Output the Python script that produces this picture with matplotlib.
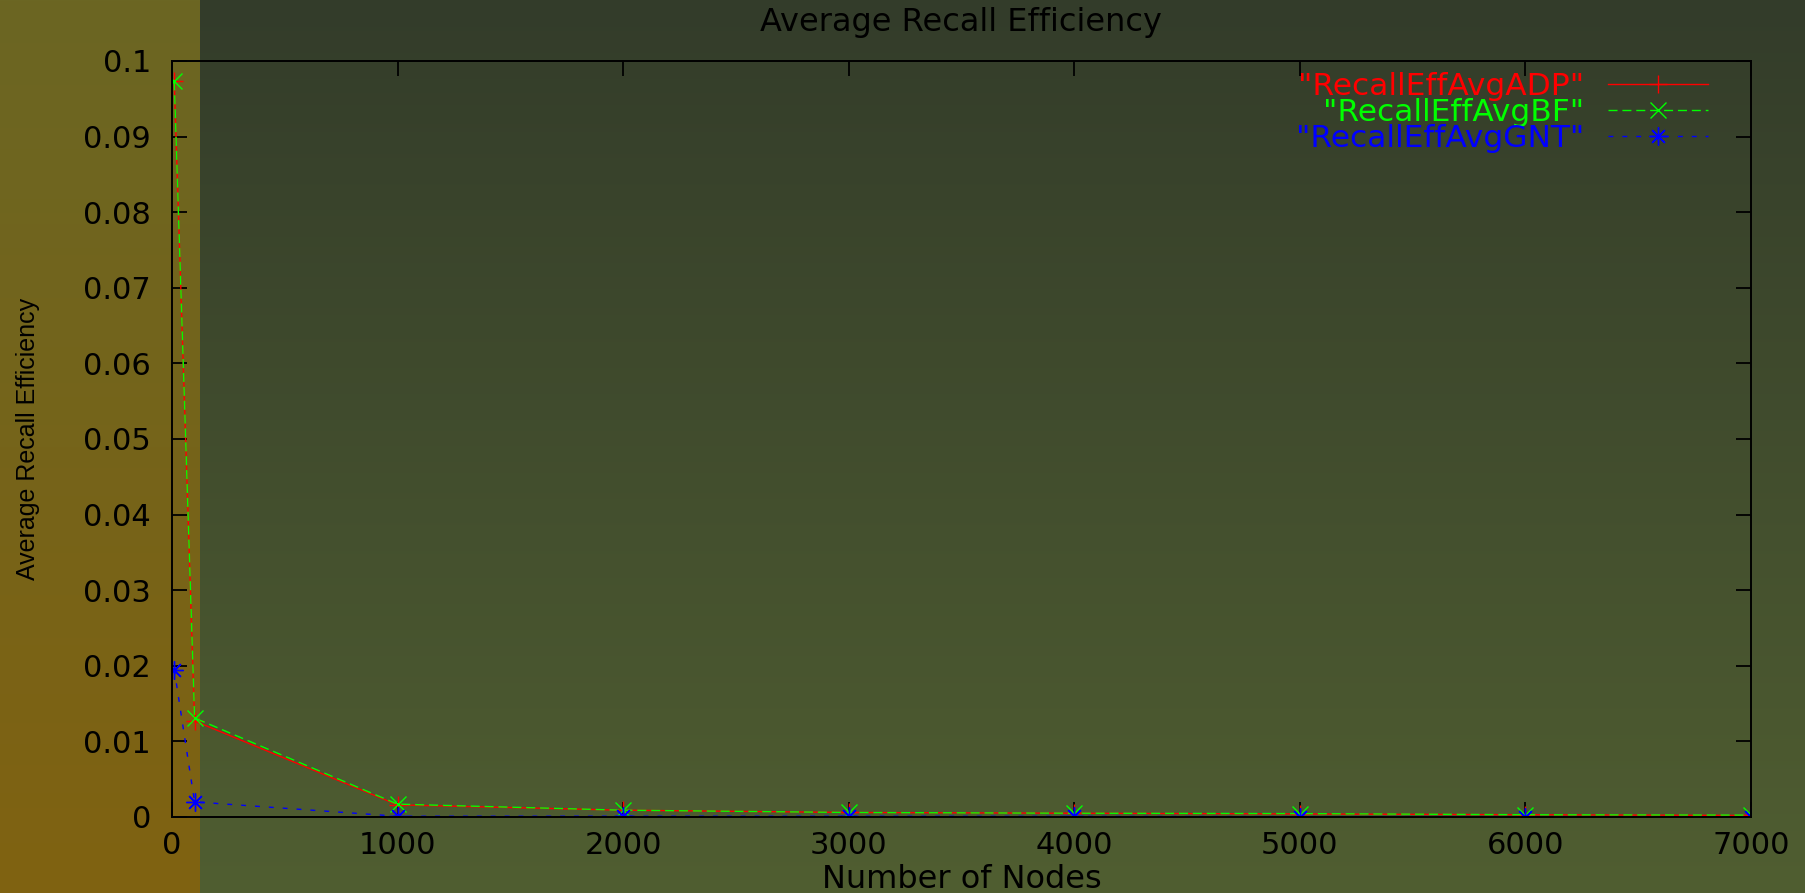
import numpy as np
import matplotlib
matplotlib.use('Agg')
import matplotlib.pyplot as plt

# values
nodes = [10, 100, 1000, 2000, 3000, 4000, 5000, 6000, 7000]
recall_adp = [0.0973, 0.0127, 0.0016, 0.0009, 0.0006, 0.0005, 0.0004, 0.0003, 0.0002]
recall_bf = [0.0973, 0.0131, 0.0017, 0.0009, 0.0006, 0.0005, 0.00045, 0.0003, 0.00025]
recall_gnt = [0.0195, 0.0020, 0.0001, 0.0001, 0.0001, 0.00008, 0.00005, 0.00004, 0.00003]

x_ticks = [0, 1000, 2000, 3000, 4000, 5000, 6000, 7000]
x_tick_labels = ['0', '1000', '2000', '3000', '4000', '5000', '6000', '7000']
y_ticks = [0, 0.01, 0.02, 0.03, 0.04, 0.05, 0.06, 0.07, 0.08, 0.09, 0.1]
y_tick_labels = ['0', '0.01', '0.02', '0.03', '0.04', '0.05', '0.06', '0.07', '0.08', '0.09', '0.1']

plt.rcParams['font.family'] = ['DejaVu Sans']
plt.rcParams['font.size'] = 22

W, H = 1805, 893
fig = plt.figure(figsize=(W / 100, H / 100), dpi=100)

# background: orange strip on the left, olive gradient elsewhere
bg = fig.add_axes([0, 0, 1, 1], zorder=-1)
t = np.linspace(0, 1, H)[:, None]
left_top, left_bot = np.array([107, 102, 35]), np.array([128, 98, 17])
right_top, right_bot = np.array([51, 60, 42]), np.array([80, 94, 49])
img = np.zeros((H, W, 3))
img[:, :200] = (left_top + (left_bot - left_top) * t)[:, None, :]
img[:, 200:] = (right_top + (right_bot - right_top) * t)[:, None, :]
bg.imshow(img / 255., aspect='auto', extent=[0, 1, 0, 1], interpolation='bilinear')
bg.set_xlim(0, 1)
bg.set_ylim(0, 1)
bg.axis('off')

ax = fig.add_axes([172 / W, 76 / H, 1579 / W, 756 / H])
ax.patch.set_alpha(0)

ax.plot(nodes, recall_adp, color='#ff0000', lw=1.0, marker='+', ms=13, mew=1.0,
        label='"RecallEffAvgADP"')
ax.plot(nodes, recall_bf, color='#00ff00', lw=1.0, dashes=(6.5, 3.5), marker='x', ms=12, mew=1.0,
        label='"RecallEffAvgBF"')
ax.plot(nodes, recall_gnt, color='#0000ff', lw=1.0, dashes=(3.5, 6.5), marker=(8, 2, 0), ms=13, mew=1.0,
        label='"RecallEffAvgGNT"')

ax.set_xlim(0, 7000)
ax.set_ylim(0, 0.1)
ax.set_xticks(x_ticks)
ax.set_xticklabels(x_tick_labels)
ax.set_yticks(y_ticks)
ax.set_yticklabels(y_tick_labels)
ax.tick_params(direction='in', length=11, width=1.3, top=True, right=True, colors='black')
ax.tick_params(axis='y', pad=15)
ax.tick_params(axis='x', pad=10)
for s in ax.spines.values():
    s.set_linewidth(1.4)
    s.set_color('black')

ax.set_title('Average Recall Efficiency', fontsize=23, pad=0, y=(H - 23 - 76) / 756., va='center')
ax.set_xlabel('Number of Nodes', fontsize=23, va='center')
ax.xaxis.set_label_coords(0.5, (14 - 76) / 756.)
ax.set_ylabel('Average Recall Efficiency', family=['Liberation Sans'], fontsize=18, va='center')
ax.yaxis.set_label_coords((28 - 172) / 1579., 0.5)

leg = ax.legend(loc='upper right', bbox_to_anchor=(1708 / W, (H - 72) / H), bbox_transform=fig.transFigure,
                frameon=False, markerfirst=False, handlelength=3.2, handletextpad=0.75,
                labelspacing=-0.1, borderpad=0, borderaxespad=0, fontsize=22.5)
for txt, line in zip(leg.get_texts(), leg.get_lines()):
    txt.set_color(line.get_color())
    txt.set_ha('right')

plt.savefig('out.png', dpi=100)
